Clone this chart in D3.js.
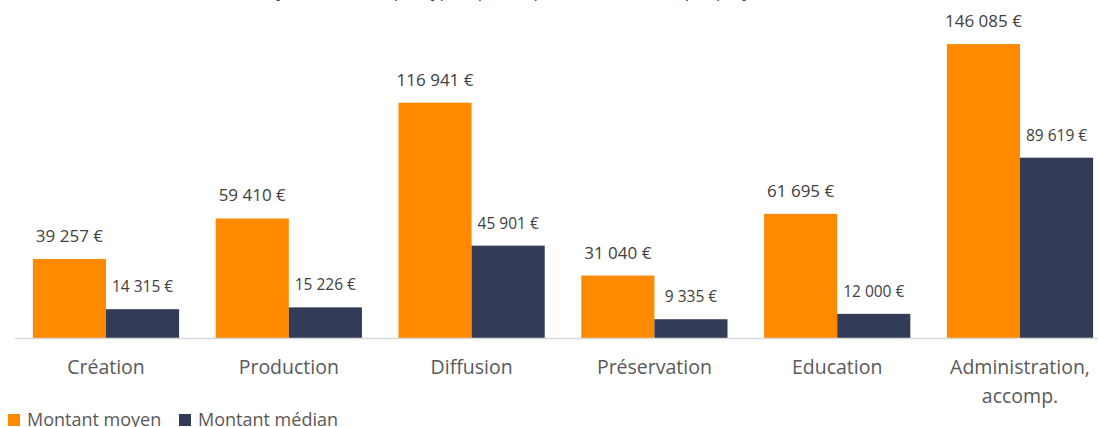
<!DOCTYPE html>
<html>
<head>
<meta charset="utf-8">
<script src="https://cdn.jsdelivr.net/npm/d3@7"></script>
<style>
  html, body { margin: 0; padding: 0; background: #fff; }
  svg { display: block; }
</style>
</head>
<body>
<svg id="chart" width="1098" height="427"></svg>
<script>
// Categories (line breaks marked with "\n")
const categories = ["Création", "Production", "Diffusion", "Préservation", "Education", "Administration,\naccomp."];
// Average and median amounts (euros)
const montantMoyen = [39257, 59410, 116941, 31040, 61695, 146085];
const montantMedian = [14315, 15226, 45901, 9335, 12000, 89619];
const seriesNames = ["Montant moyen", "Montant médian"];
const seriesColors = ["#FF8A00", "#323C57"];
const titleText = "Montant moyen et médian par type, après répartition des aides par projet soutenu (hors CNC)";

const svg = d3.select("#chart");
const W = 1098, H = 427;
const font = "'Open Sans', Lato, sans-serif";

const x0 = d3.scaleBand().domain(categories).range([14.6, 1111.4]).paddingInner(0.2).paddingOuter(0.1);
const x1 = d3.scaleBand().domain(seriesNames).range([0, x0.bandwidth()]);
const y = d3.scaleLinear().domain([0, 150000]).range([338, 36.2]);

const fmt = v => d3.format(",")(v).replace(/,/g, "\u00a0") + "\u00a0€";

// Title (sits partly above the visible area)
svg.append("text")
  .attr("x", 550).attr("y", -3)
  .attr("text-anchor", "middle")
  .attr("font-family", font).attr("font-size", 17).attr("fill", "#404040")
  .text(titleText);

const data = categories.map((c, i) => ({ cat: c, vals: [montantMoyen[i], montantMedian[i]] }));

const g = svg.append("g");
const groups = g.selectAll("g.grp").data(data).join("g")
  .attr("class", "grp")
  .attr("transform", d => `translate(${x0(d.cat)},0)`);

groups.selectAll("rect").data(d => d.vals.map((v, j) => ({ v, j }))).join("rect")
  .attr("x", d => x1(seriesNames[d.j]))
  .attr("y", d => y(d.v))
  .attr("width", x1.bandwidth())
  .attr("height", d => y(0) - y(d.v))
  .attr("fill", d => seriesColors[d.j]);

groups.selectAll("text.val").data(d => d.vals.map((v, j) => ({ v, j }))).join("text")
  .attr("class", "val")
  .attr("x", d => x1(seriesNames[d.j]) + x1.bandwidth() / 2)
  .attr("y", d => y(d.v) - 17)
  .attr("text-anchor", "middle")
  .attr("font-family", font)
  .attr("font-size", d => d.j === 0 ? 17 : 15.5)
  .attr("fill", "#404040")
  .text(d => fmt(d.v));

// Category axis
const axisG = svg.append("g").attr("transform", `translate(0,${y(0)})`);
axisG.append("line").attr("x1", 15).attr("x2", W).attr("y1", 0.5).attr("y2", 0.5)
  .attr("stroke", "#D9D9D9").attr("stroke-width", 1.5);

axisG.selectAll("text.cat").data(categories).join("text")
  .attr("class", "cat")
  .attr("text-anchor", "middle")
  .attr("font-family", font).attr("font-size", 19.5).attr("fill", "#595959")
  .attr("transform", d => `translate(${x0(d) + x0.bandwidth() / 2},36)`)
  .each(function(d) {
    d.split("\n").forEach((line, k) => {
      d3.select(this).append("tspan").attr("x", 0).attr("dy", k === 0 ? 0 : 29).text(line);
    });
  });

// Legend
const legend = svg.append("g").attr("transform", "translate(8,414)");
const legX = [0, 171];
seriesNames.forEach((name, i) => {
  const it = legend.append("g").attr("transform", `translate(${legX[i]},0)`);
  it.append("rect").attr("width", 12).attr("height", 12).attr("fill", seriesColors[i]);
  it.append("text").attr("x", 19).attr("y", 12)
    .attr("font-family", font).attr("font-size", 18).attr("fill", "#595959")
    .text(name);
});
</script>
</body>
</html>
